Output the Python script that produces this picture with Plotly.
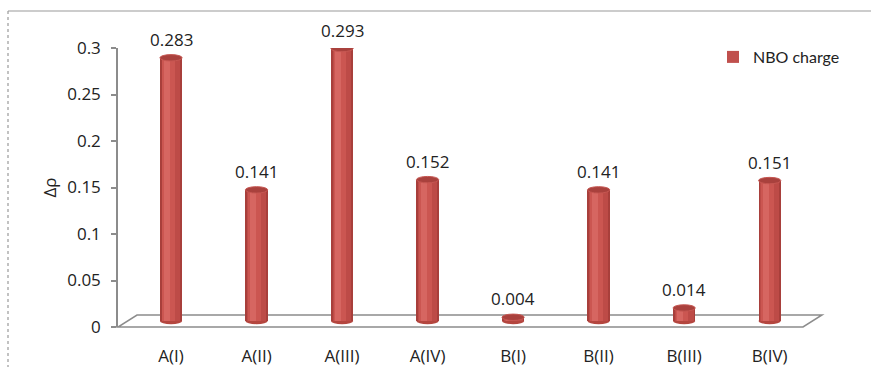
import plotly.graph_objects as go

# Δρ values (NBO charge) per structure
categories = ["A(I)", "A(II)", "A(III)", "A(IV)", "B(I)", "B(II)", "B(III)", "B(IV)"]
nbo_charge = [0.283, 0.141, 0.293, 0.152, 0.004, 0.141, 0.014, 0.151]
y_ticks = [0, 0.05, 0.1, 0.15, 0.2, 0.25, 0.3]
y_tick_text = ["0", "0.05", "0.1", "0.15", "0.2", "0.25", "0.3"]
series_name = "NBO charge"

W, H = 871, 367
L, R, T, B = 118, 68, 48, 40
plot_w, plot_h = W - L - R, H - T - B
y_max = 0.3
px_per_unit = plot_h / y_max

# bars stand in the middle of the floor depth
depth_dx, depth_dy = 19, 12
lift = (depth_dy / 2) / px_per_unit
x_range = [-0.62, 7.39]

idx = list(range(len(categories)))
font_main = "Open Sans, Liberation Sans, sans-serif"
TXT = "#222222"
GRAY = "#8c8c8c"
FS = 17

fig = go.Figure()

# cylinder body built from overlaid bars of decreasing width (shading)
bar_layers = [
    (0.26, 0.0, "#A83F3B"),
    (0.22, 0.0, "#BD4B47"),
    (0.15, -0.025, "#CB5651"),
    (0.07, -0.045, "#D66661"),
]
for w, shift, col in bar_layers:
    fig.add_trace(go.Bar(
        x=[i + shift for i in idx], y=nbo_charge, width=w,
        marker=dict(color=col, line=dict(width=0)),
        yaxis="y2", showlegend=False, hoverinfo="skip",
    ))

# legend entry for the series
fig.add_trace(go.Bar(
    x=[None], y=[None], name=series_name,
    marker=dict(color="#C0504D", line=dict(width=0)),
    showlegend=True,
))

# value labels above each cylinder
annotations = [
    dict(x=i, y=v, xref="x", yref="y2", text=f"{v:.3f}", showarrow=False,
         yanchor="bottom", yshift=5, font=dict(family=font_main, size=FS, color=TXT))
    for i, v in zip(idx, nbo_charge)
]

shapes = []


def px_to_paper(px, py):
    return (px - L) / plot_w, (H - B - py) / plot_h


# outer chart frame (top and left edges)
fx0, fy0 = px_to_paper(8, 11)
fx1, fy1 = px_to_paper(W + 2, H + 2)
shapes.append(dict(type="line", xref="paper", yref="paper", x0=fx0, y0=fy0, x1=fx1, y1=fy0,
                   line=dict(color="#9a9a9a", width=1.2)))
shapes.append(dict(type="line", xref="paper", yref="paper", x0=fx0, y0=fy0, x1=fx0, y1=fy1,
                   line=dict(color="#9a9a9a", width=1.2, dash="dot")))

# floor of the 3-D plot area
ddx, ddy = depth_dx / plot_w, depth_dy / plot_h
shapes.append(dict(
    type="path", xref="paper", yref="paper", layer="below",
    path=f"M 0,0 L 1,0 L {1 + ddx},{ddy} L {ddx},{ddy} Z",
    fillcolor="white", line=dict(color=GRAY, width=1.5),
))

# elliptical caps of each cylinder
half_w = 0.13
half_h = 3.2 / px_per_unit
for i, v in zip(idx, nbo_charge):
    shapes.append(dict(type="circle", xref="x", yref="y2", layer="below",
                       x0=i - half_w, x1=i + half_w, y0=-half_h, y1=half_h,
                       fillcolor="#B4463F", line=dict(width=0)))
    shapes.append(dict(type="circle", xref="x", yref="y2", layer="above",
                       x0=i - half_w, x1=i + half_w, y0=v - half_h, y1=v + half_h,
                       fillcolor="#A9413D", line=dict(color="#C65752", width=1)))

fig.update_layout(
    width=W, height=H,
    margin=dict(l=L, r=R, t=T, b=B, pad=0, autoexpand=False),
    paper_bgcolor="white", plot_bgcolor="rgba(0,0,0,0)",
    barmode="overlay", bargap=0,
    font=dict(family=font_main, size=FS, color=TXT),
    shapes=shapes, annotations=annotations,
    xaxis=dict(
        range=x_range, tickmode="array", tickvals=idx, ticktext=categories,
        showgrid=False, zeroline=False, showline=False, ticks="", automargin=False,
        ticklabelstandoff=17, tickfont=dict(family=font_main, size=FS, color=TXT),
    ),
    yaxis=dict(
        range=[0, y_max], tickmode="array", tickvals=y_ticks, ticktext=y_tick_text,
        showgrid=False, zeroline=False, showline=True, linecolor=GRAY, linewidth=1.5,
        ticks="outside", ticklen=5, tickcolor=GRAY, tickwidth=1.5, automargin=False,
        ticklabelstandoff=7, tickfont=dict(family=font_main, size=FS, color=TXT),
        title=dict(text="Δρ", standoff=6, font=dict(family=font_main, size=FS, color=TXT)),
    ),
    yaxis2=dict(
        range=[-lift, y_max - lift], overlaying="y", visible=False,
    ),
    legend=dict(
        x=(713 - L) / plot_w, y=(H - B - 57) / plot_h, xanchor="left", yanchor="middle",
        bgcolor="rgba(0,0,0,0)", itemwidth=30,
        font=dict(family="Lato, Open Sans, sans-serif", size=16, color=TXT),
    ),
)

fig.write_html("out.html")
